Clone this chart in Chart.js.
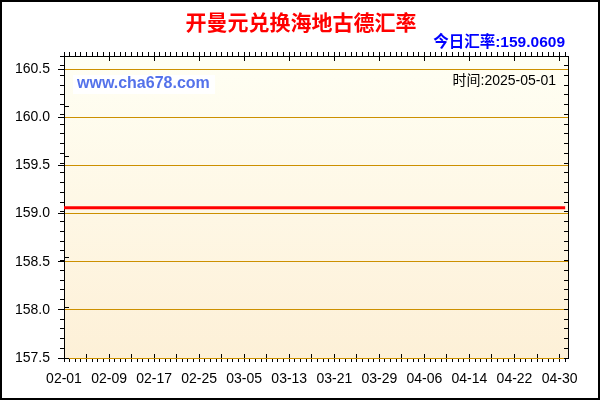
<!DOCTYPE html>
<html>
<head>
<meta charset="utf-8">
<title>开曼元兑换海地古德汇率</title>
<script src="https://cdn.jsdelivr.net/npm/chart.js@4/dist/chart.umd.min.js"></script>
<style>
  body { margin: 0; background: #fff; }
  canvas { display: block; }
</style>
</head>
<body>
<canvas id="rate-chart" width="600" height="400"></canvas>
<script>
// labels under the x axis, one every 8 days starting 02-01
const tickLabels = ['02-01', '02-09', '02-17', '02-25', '03-05', '03-13',
                    '03-21', '03-29', '04-06', '04-14', '04-22', '04-30'];
const yTicks = [157.5, 158.0, 158.5, 159.0, 159.5, 160.0, 160.5];

// daily rate, 02-01 .. 05-01
const rates = [
    159.0609, 159.0609, 159.0609, 159.0609, 159.0609, 159.0609, 159.0609, 159.0609, 159.0609, 159.0609,
    159.0609, 159.0609, 159.0609, 159.0609, 159.0609, 159.0609, 159.0609, 159.0609, 159.0609, 159.0609,
    159.0609, 159.0609, 159.0609, 159.0609, 159.0609, 159.0609, 159.0609, 159.0609, 159.0609, 159.0609,
    159.0609, 159.0609, 159.0609, 159.0609, 159.0609, 159.0609, 159.0609, 159.0609, 159.0609, 159.0609,
    159.0609, 159.0609, 159.0609, 159.0609, 159.0609, 159.0609, 159.0609, 159.0609, 159.0609, 159.0609,
    159.0609, 159.0609, 159.0609, 159.0609, 159.0609, 159.0609, 159.0609, 159.0609, 159.0609, 159.0609,
    159.0609, 159.0609, 159.0609, 159.0609, 159.0609, 159.0609, 159.0609, 159.0609, 159.0609, 159.0609,
    159.0609, 159.0609, 159.0609, 159.0609, 159.0609, 159.0609, 159.0609, 159.0609, 159.0609, 159.0609,
    159.0609, 159.0609, 159.0609, 159.0609, 159.0609, 159.0609, 159.0609, 159.0609, 159.0609, 159.0609
];

const todayRate = '159.0609';
const updated = '2025-05-01';

const X_MIN = 0, X_MAX = 89.5;
const Y_MIN = 157.5, Y_MAX = 160.635;

function range(from, to, step) {
    const out = [];
    for (let v = from; v <= to + 1e-9; v += step) out.push({ value: +v.toFixed(4) });
    return out;
}

// axis that only draws tick marks (negative length = pointing into the plot)
function tickAxis(position, weight, min, max, step, length, z) {
    const horizontal = position === 'top' || position === 'bottom';
    return {
        type: 'linear',
        position: position,
        axis: horizontal ? 'x' : 'y',
        weight: weight,
        z: z || 0,
        min: min,
        max: max,
        afterBuildTicks: scale => { scale.ticks = range(min, max, step); },
        afterFit: scale => { if (horizontal) scale.height = 0; else scale.width = 0; },
        ticks: { display: false },
        border: { display: false },
        grid: { drawOnChartArea: false, color: '#000', tickColor: '#000', tickLength: length, lineWidth: 1 }
    };
}

const decor = {
    id: 'decor',
    beforeDraw(chart) {
        const { ctx, chartArea: a } = chart;
        ctx.save();
        ctx.fillStyle = '#fff';
        ctx.fillRect(0, 0, chart.width, chart.height);
        const g = ctx.createLinearGradient(0, a.top, 0, a.bottom);
        g.addColorStop(0, '#fffff4');
        g.addColorStop(1, '#fdf0d7');
        ctx.fillStyle = g;
        ctx.fillRect(a.left, a.top, a.right - a.left, a.bottom - a.top);
        ctx.fillStyle = '#ffffff';
        ctx.fillRect(73, 75, 142, 19);
        ctx.restore();
    },
    afterDraw(chart) {
        const { ctx } = chart;
        ctx.save();
        ctx.textBaseline = 'middle';

        ctx.fillStyle = '#ff0000';
        ctx.textAlign = 'center';
        ctx.font = 'bold 21px "Noto Sans CJK SC"';
        ctx.fillText('开曼元兑换海地古德汇率', 301, 22);

        ctx.fillStyle = '#0000ff';
        ctx.textAlign = 'right';
        ctx.font = 'bold 15.5px "Liberation Sans", "Noto Sans CJK SC"';
        ctx.fillText('今日汇率:' + todayRate, 565, 43);

        ctx.fillStyle = '#5472ea';
        ctx.textAlign = 'left';
        ctx.font = 'bold 16px "Liberation Sans"';
        ctx.fillText('www.cha678.com', 77, 84);

        ctx.fillStyle = '#000';
        ctx.textAlign = 'right';
        ctx.font = '14px "Liberation Sans", "Noto Sans CJK SC"';
        ctx.fillText('时间:' + updated, 556, 81);

        ctx.strokeStyle = '#000';
        ctx.lineWidth = 2;
        ctx.strokeRect(1, 1, chart.width - 2, chart.height - 2);
        ctx.restore();
    }
};

new Chart(document.getElementById('rate-chart').getContext('2d'), {
    type: 'line',
    data: {
        datasets: [{
            data: rates.map((r, i) => ({ x: i, y: r })),
            borderColor: '#ff0000',
            borderWidth: 3,
            pointRadius: 0,
            tension: 0,
            fill: false
        }]
    },
    options: {
        responsive: false,
        animation: false,
        devicePixelRatio: 1,
        layout: { padding: { top: 56, right: 32, left: 0, bottom: 0 } },
        plugins: { legend: { display: false }, tooltip: { enabled: false } },
        scales: {
            x: {
                type: 'linear',
                position: 'bottom',
                weight: 1,
                min: X_MIN,
                max: X_MAX,
                afterBuildTicks: scale => { scale.ticks = range(0, 89, 1); },
                afterFit: scale => { scale.height = 42; },
                ticks: {
                    autoSkip: false,
                    maxRotation: 0,
                    padding: 9,
                    color: '#000',
                    font: { family: '"Liberation Sans"', size: 14 },
                    callback: v => (v % 8 === 0 ? tickLabels[v / 8] : '')
                },
                border: { display: false },
                grid: { drawOnChartArea: false, color: '#000', tickColor: '#000', tickLength: 4 }
            },
            xBotIn: tickAxis('bottom', 0, X_MIN, X_MAX, 4, -4, 1),
            xTop: Object.assign(tickAxis('top', 0, X_MIN, X_MAX, 1, 4), {
                border: { display: true, color: '#000', width: 1 }
            }),
            xTopIn: tickAxis('top', 1, X_MIN, X_MAX, 8, -5, 1),
            y: {
                type: 'linear',
                position: 'left',
                weight: 2,
                min: Y_MIN,
                max: Y_MAX,
                afterBuildTicks: scale => { scale.ticks = yTicks.map(v => ({ value: v })); },
                afterFit: scale => { scale.width = 64; },
                ticks: {
                    padding: 8,
                    color: '#000',
                    font: { family: '"Liberation Sans"', size: 14 },
                    callback: v => v.toFixed(1)
                },
                border: { display: true, color: '#000', width: 1 },
                grid: { color: '#cc9000', tickColor: '#000', tickLength: 6, lineWidth: 1 }
            },
            yMinor: tickAxis('left', 0, Y_MIN, 160.6, 0.1, 4),
            yIn: tickAxis('left', 1, Y_MIN, 160.5, 0.5, -5, 1),
            yRight: Object.assign(tickAxis('right', 0, Y_MIN, 160.6, 0.1, -4), {
                border: { display: true, color: '#000', width: 1 }
            })
        }
    },
    plugins: [decor]
});
</script>
</body>
</html>
